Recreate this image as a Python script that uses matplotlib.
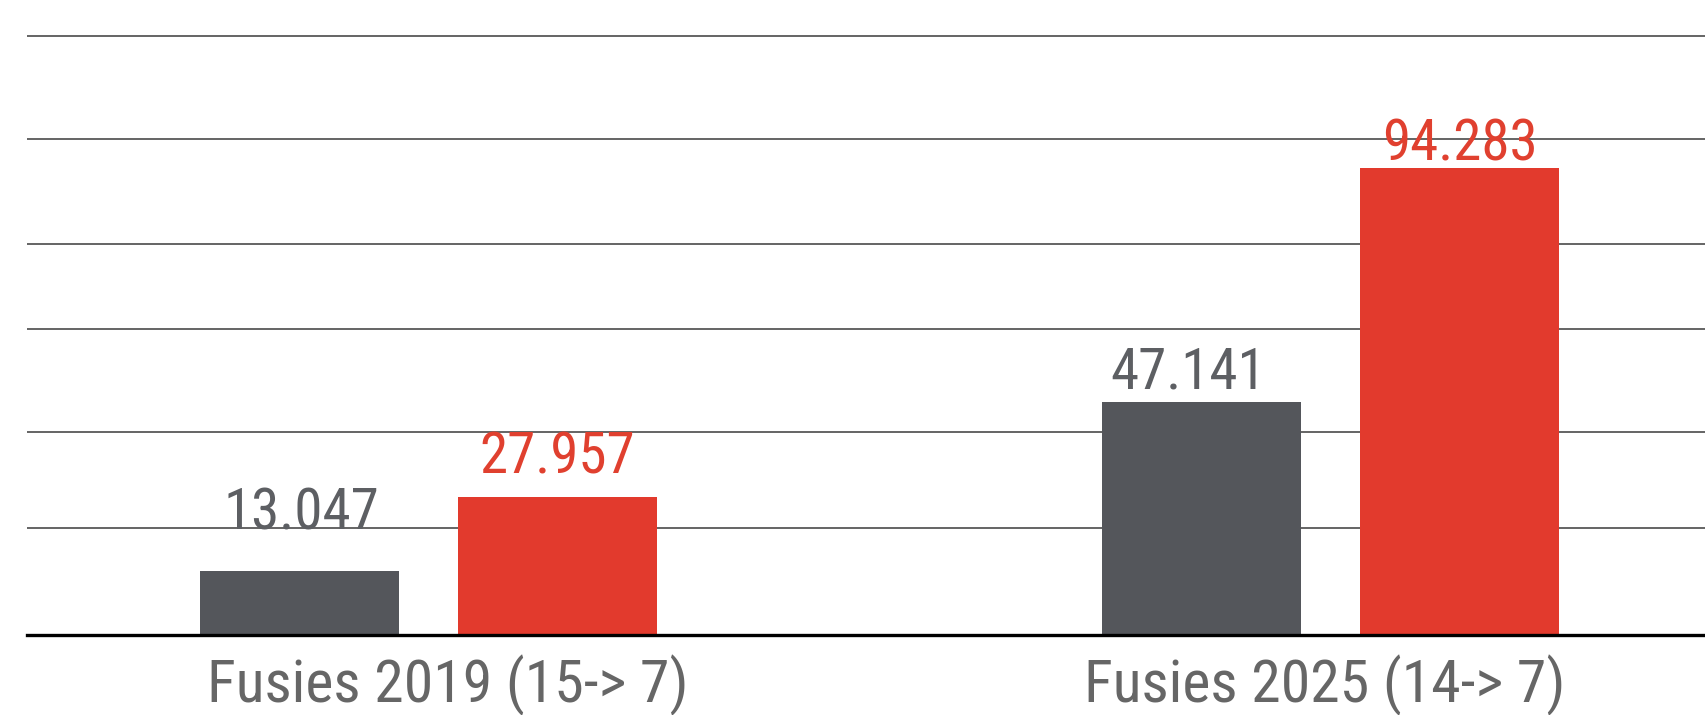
import numpy as np
import matplotlib
matplotlib.use('Agg')
import matplotlib.pyplot as plt
from matplotlib.transforms import ScaledTranslation

plt.rcParams['font.family'] = ['Roboto Condensed', 'Liberation Sans Narrow', 'Roboto', 'DejaVu Sans']

categories = ['Fusies 2019 (15-> 7)', 'Fusies 2025 (14-> 7)']
before = [13.047, 47.141]
after = [27.957, 94.283]
before_labels = ['13.047', '47.141']
after_labels = ['27.957', '94.283']
grid_levels = [21.7, 41.0, 61.9, 79.0, 100.1, 120.9]

GRAY = '#54565b'
RED = '#e23a2d'
GRAY_TXT = '#5d5f63'
RED_TXT = '#e0402f'

W, H = 1706, 715
fig = plt.figure(figsize=(W / 100, H / 100), dpi=100)
ax = fig.add_axes([27 / W, 79.6 / H, 1 - 27 / W, 1 - 79.6 / H])

x = np.arange(len(categories))
bw = 0.2206
off = 0.1429

for g in grid_levels:
    ax.axhline(g, color='#3a3a3a', lw=1.1, zorder=1)
ax.axhline(0, color='black', lw=2.4, zorder=4, clip_on=False)

b1 = ax.bar(x - off, before, bw, color=GRAY, zorder=3)
b2 = ax.bar(x + off, after, bw, color=RED, zorder=3)

# label offsets (points) from bar tops, hand-placed in the original
pads_before = [(1.5, 29.4), (-10, 9.6)]
pads_after = [(0, 16.9), (0, 5.8)]
for bar, lab, p in zip(b1, before_labels, pads_before):
    ax.annotate(lab, (bar.get_x() + bar.get_width() / 2, bar.get_height()),
                xytext=p, textcoords='offset points', ha='center', va='baseline',
                fontsize=41, color=GRAY_TXT, zorder=5)
for bar, lab, p in zip(b2, after_labels, pads_after):
    ax.annotate(lab, (bar.get_x() + bar.get_width() / 2, bar.get_height()),
                xytext=p, textcoords='offset points', ha='center', va='baseline',
                fontsize=41, color=RED_TXT, zorder=5)

ax.set_xlim(-0.4453, 1.4161)
ax.set_ylim(0, 128.2)
ax.set_xticks(x)
ax.set_xticklabels(categories, fontsize=43, color='#666666')
ax.tick_params(axis='x', length=0, pad=14)
for lbl, dx in zip(ax.get_xticklabels(), [14, -4.5]):
    lbl.set_transform(lbl.get_transform() + ScaledTranslation(dx / 72, 0, fig.dpi_scale_trans))
ax.set_yticks([])
for s in ax.spines.values():
    s.set_visible(False)

fig.savefig('out.png', dpi=100, facecolor='white')
